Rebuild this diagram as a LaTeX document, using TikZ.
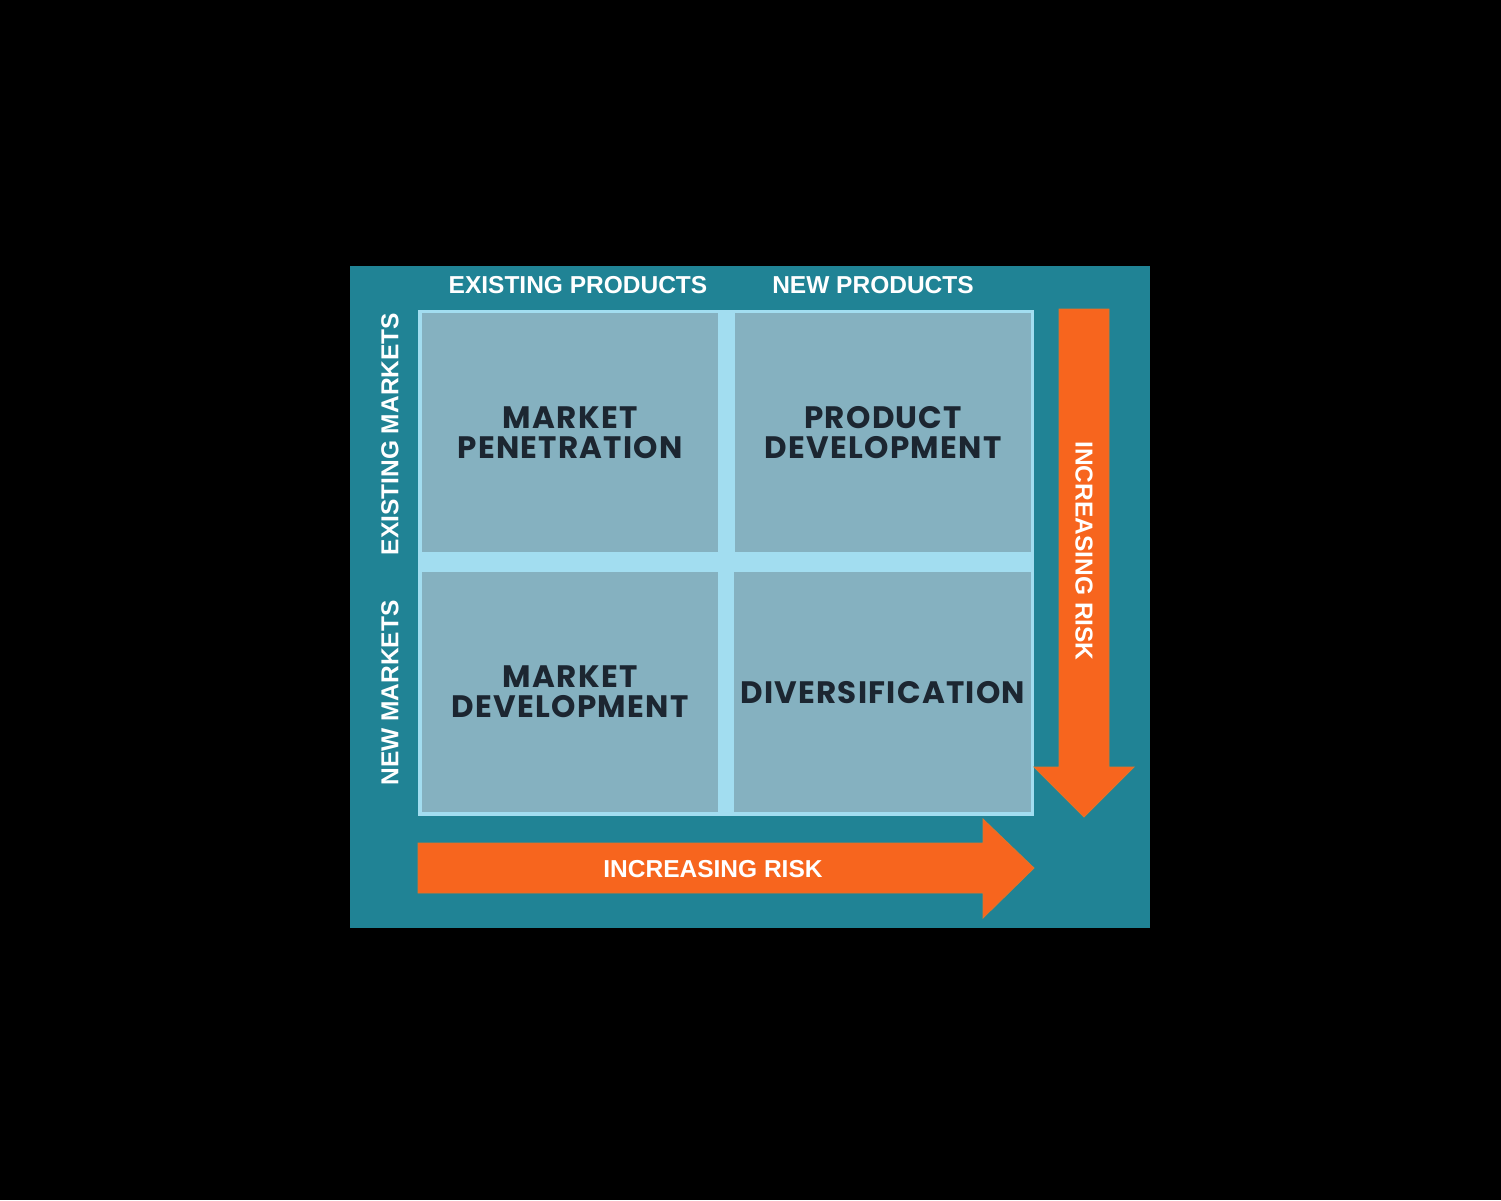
\documentclass[tikz,border=0pt]{standalone}
\usepackage{fontspec}
\setmainfont{Liberation Sans}
\newfontfamily\cellfont[LetterSpace=4]{Poppins}
\usetikzlibrary{positioning}
\definecolor{panelteal}{HTML}{208395}
\definecolor{gridcyan}{HTML}{A2DDF0}
\definecolor{cellblue}{HTML}{85B1C0}
\definecolor{riskorange}{HTML}{F7651E}
\definecolor{riskedge}{HTML}{E0752A}
\definecolor{celltext}{HTML}{1C2631}

\begin{document}
\begin{tikzpicture}[x=1pt,y=-1pt,
	cell/.style={fill=cellblue,anchor=north west,inner sep=0pt,align=center,
		text=celltext,font=\cellfont\bfseries\fontsize{31}{30}\selectfont},
	axis/.style={text=white,inner sep=0pt,font=\bfseries\fontsize{24.5}{26}\selectfont},
	risk/.style={fill=riskorange,draw=riskedge,line width=0.8pt}]
	\fill[black] (0,0) rectangle (1501,1200);
	\fill[panelteal] (350,266) rectangle (1150,928);
	\fill[gridcyan] (418,310) rectangle (1034,816);
	\node[cell,minimum width=296,minimum height=239] (mp) at (422,313) {MARKET\\PENETRATION};
	\node[cell,minimum width=296,minimum height=239] (pd) at (735,313) {PRODUCT\\DEVELOPMENT};
	\node[cell,minimum width=296,minimum height=240] (md) at (422,572) {MARKET\\DEVELOPMENT};
	\node[cell,minimum width=297,minimum height=240] (dv) at (734,572) {DIVERSIFICATION};
	\filldraw[risk] (1059,309) -- (1109,309) -- (1109,767) -- (1134,767) -- (1084,817)
		-- (1034,767) -- (1059,767) -- cycle;
	\filldraw[risk] (418,843) -- (983,843) -- (983,819) -- (1034,868) -- (983,918)
		-- (983,893) -- (418,893) -- cycle;
	\node[axis] (exprod) at (578,285) {EXISTING PRODUCTS};
	\node[axis] (newprod) at (873,285) {NEW PRODUCTS};
	\node[axis,rotate=90] (exmkt) at (390,434) {EXISTING MARKETS};
	\node[axis,rotate=90] (newmkt) at (390,693) {NEW MARKETS};
	\node[axis,rotate=-90] (riskdown) at (1084,551) {INCREASING RISK};
	\node[axis] (riskright) at (713,869) {INCREASING RISK};
\end{tikzpicture}
\end{document}
